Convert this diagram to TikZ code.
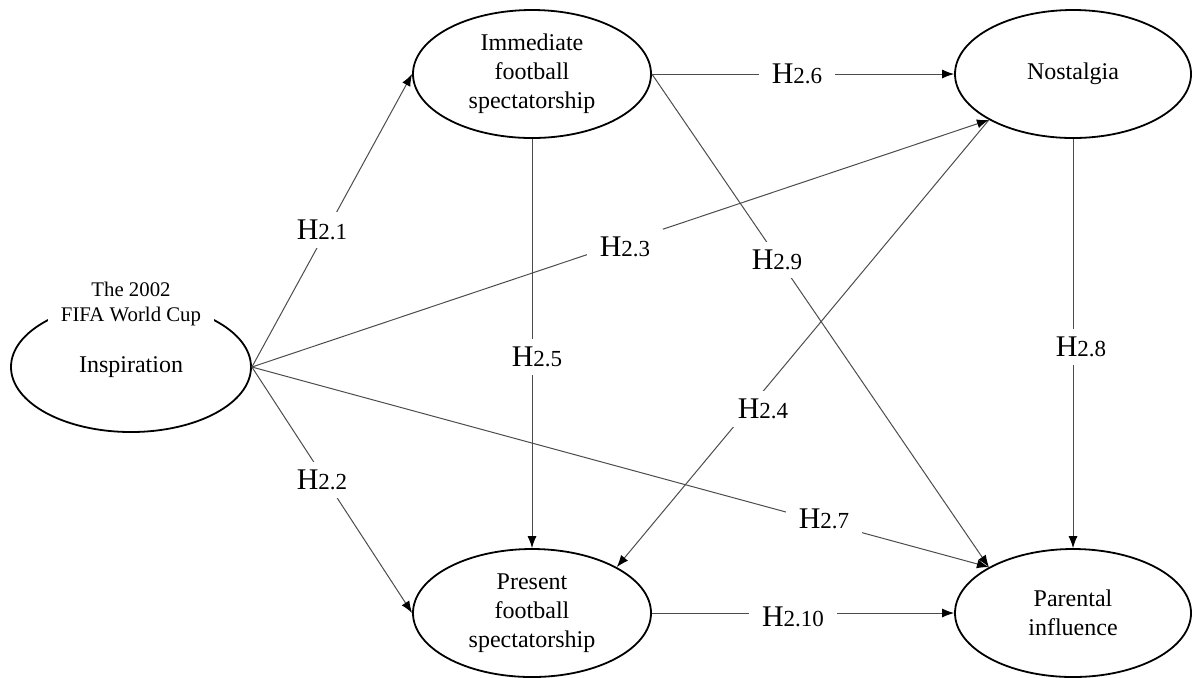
\documentclass[tikz,border=0pt]{standalone}
\usepackage{fontspec}
\setmainfont{Liberation Serif}
\usetikzlibrary{shapes.geometric,arrows.meta}
\newcommand{\hyp}[1]{{\fontsize{15}{18}\selectfont H}{\fontsize{11.5}{13}\selectfont #1}}
\begin{document}
\begin{tikzpicture}[x=0.5pt,y=-0.5pt,
  latent/.style={ellipse, draw=black, line width=0.9pt, minimum width=119pt, minimum height=64pt, inner sep=0pt, align=center, font=\fontsize{12}{14.5}\selectfont},
  conn/.style={draw=black!70, line width=0.5pt, -{Latex[length=6pt,width=4.5pt,color=black]}},
  hlab/.style={fill=white, inner xsep=6.5pt, inner ysep=4pt}
]
\useasboundingbox (0,0) rectangle (1192,677);

% constructs
\node[latent, minimum width=120pt, minimum height=65pt] (insp) at (131,367) {Inspiration};
\node[fill=white, inner xsep=6.5pt, inner ysep=1pt, align=center, font=\fontsize{10.4}{12.2}\selectfont] (cup) at (131,304) {The 2002\\FIFA World Cup};
\node[latent] (imm) at (532,74) {Immediate\\football\\spectatorship};
\node[latent, minimum width=118pt] (nost) at (1073,74) {Nostalgia};
\node[latent] (pres) at (532,613) {Present\\football\\spectatorship};
\node[latent, minimum width=118pt] (par) at (1073,613) {Parental\\influence};

% paths
\draw[conn] (insp.east) -- (imm.west);
\draw[conn] (insp.east) -- (pres.west);
\draw[conn] (insp.east) -- (nost.south west);
\draw[conn] (nost.south west) -- (pres.north east);
\draw[conn] (imm.south) -- (pres.north);
\draw[conn] (imm.east) -- (nost.west);
\draw[conn] (insp.east) -- (par.north west);
\draw[conn] (nost.south) -- (par.north);
\draw[conn] (imm.east) -- (par.north west);
\draw[conn] (pres.east) -- (par.west);

% hypothesis labels
\node[hlab] (h21) at (322,230) {\hyp{2.1}};
\node[hlab] (h22) at (322,480) {\hyp{2.2}};
\node[hlab] (h23) at (625,247) {\hyp{2.3}};
\node[hlab] (h24) at (763,409) {\hyp{2.4}};
\node[hlab] (h25) at (537,357) {\hyp{2.5}};
\node[hlab] (h26) at (797,74) {\hyp{2.6}};
\node[hlab] (h27) at (824,519) {\hyp{2.7}};
\node[hlab] (h28) at (1081,347) {\hyp{2.8}};
\node[hlab] (h29) at (777,260) {\hyp{2.9}};
\node[hlab] (h210) at (793,617) {\hyp{2.10}};
\end{tikzpicture}
\end{document}
